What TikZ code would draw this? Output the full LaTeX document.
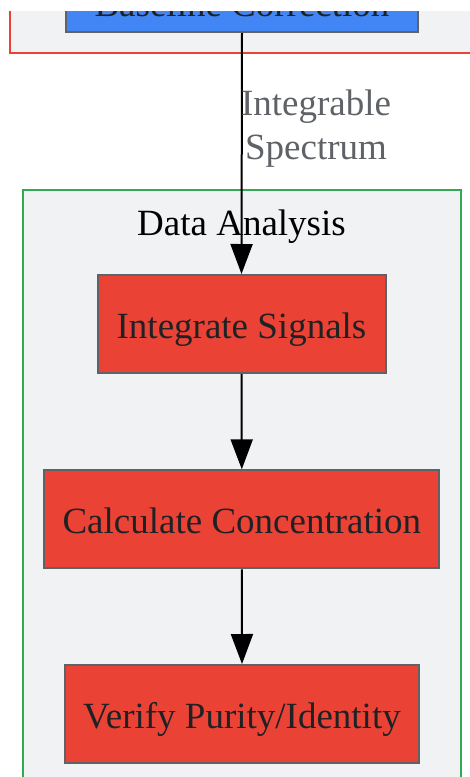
\documentclass[tikz,border=0pt]{standalone}
\usepackage{fontspec}
\setmainfont{Liberation Serif}
\usetikzlibrary{arrows.meta}
\definecolor{clbg}{HTML}{F1F2F4}
\definecolor{nodered}{HTML}{EA4335}
\definecolor{nodeblue}{HTML}{4285F4}
\definecolor{nodeborder}{HTML}{5F6368}
\definecolor{clgreen}{HTML}{34A853}
\definecolor{clred}{HTML}{EA4335}
\definecolor{txtdark}{HTML}{202124}
\definecolor{lblgray}{HTML}{5F6368}
\tikzset{
  bigfont/.style={font=\fontsize{37}{44}\selectfont},
  procbox/.style={draw=nodeborder, line width=2pt, rectangle, inner sep=0pt,
    text=txtdark, bigfont, text height=38pt, text depth=10pt},
  cluster/.style={line width=2pt, fill=clbg},
  arr/.style={line width=2pt, -{Triangle[length=30pt,width=22pt]}},
  edgelbl/.style={bigfont, text=lblgray, anchor=base, inner sep=0pt},
}
\begin{document}
\begin{tikzpicture}[x=1pt,y=-1pt]
\useasboundingbox (0,0) rectangle (470,777);
\fill[white] (0,0) rectangle (470,777);
\begin{scope}
\clip (0,11) rectangle (470,777);
% top cluster (red)
\draw[cluster, draw=clred] (10,-120) rectangle (490,53);
% bottom cluster (green)
\draw[cluster, draw=clgreen] (23,190) rectangle (461,820);
\node[bigfont, text=black, anchor=base, inner sep=0pt] (title) at (241.5,235) {Data Analysis};
% nodes
\node[procbox, fill=nodeblue, minimum width=352pt, minimum height=130pt] (bc) at (242,-33) {};
\node[text=txtdark, bigfont, anchor=base, inner sep=0pt] (bctext) at (242,16) {Baseline Correction};
\node[procbox, fill=nodered, minimum width=288pt, minimum height=98pt] (ints) at (241.5,324) {Integrate Signals};
\node[procbox, fill=nodered, minimum width=395pt, minimum height=98pt] (calc) at (241.8,519.3) {Calculate Concentration};
\node[procbox, fill=nodered, minimum width=354pt, minimum height=98pt] (verify) at (242,714) {Verify Purity/Identity};
% edges
\draw[arr] (bc.south) -- (ints.north);
\draw[arr] (ints.south) -- (calc.north);
\draw[arr] (calc.south) -- (verify.north);
% edge label
\node[edgelbl] (lbl1) at (316,115) {Integrable};
\node[edgelbl] (lbl2) at (316,159) {Spectrum};
\end{scope}
\end{tikzpicture}
\end{document}
